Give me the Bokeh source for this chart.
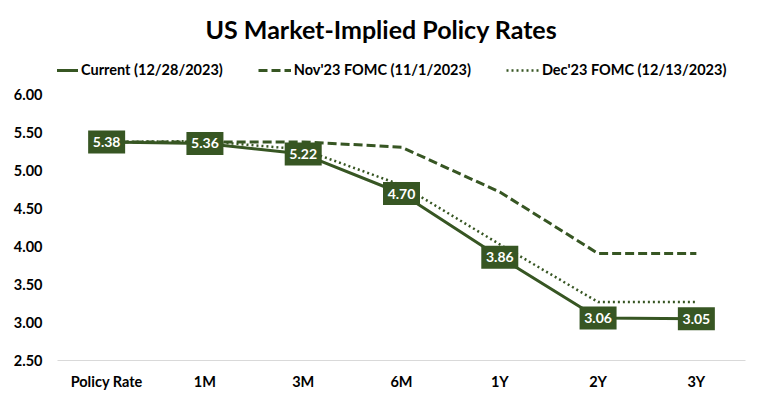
from bokeh.plotting import figure
from bokeh.models import ColumnDataSource, Legend, LegendItem, FactorRange, FixedTicker, CustomJSTickFormatter
from bokeh.core.properties import value
from bokeh.embed import file_html
from bokeh.resources import INLINE

categories = ["Policy Rate", "1M", "3M", "6M", "1Y", "2Y", "3Y"]
current = [5.38, 5.36, 5.22, 4.70, 3.86, 3.06, 3.05]
nov23 = [5.38, 5.38, 5.38, 5.31, 4.72, 3.91, 3.91]
dec23 = [5.38, 5.39, 5.28, 4.81, 4.03, 3.27, 3.27]
y_ticks = [2.5, 3.0, 3.5, 4.0, 4.5, 5.0, 5.5, 6.0]
series_names = ["Current (12/28/2023)", "Nov'23 FOMC (11/1/2023)", "Dec'23 FOMC (12/13/2023)"]

GREEN = "#375623"
FONT = "Lato"

p = figure(width=757, height=393, x_range=FactorRange(*categories, range_padding=0),
           y_range=(2.5, 6.584), output_backend="svg", toolbar_location=None,
           min_border_left=57, min_border_right=12, min_border_top=50, min_border_bottom=33,
           title="US Market-Implied Policy Rates")

p.title.align = "left"
p.title.offset = 148
p.title.standoff = 13
p.title.text_font = FONT
p.title.text_font_size = "25px"
p.title.text_font_style = "bold"
p.title.text_color = "#000000"

p.outline_line_color = None
p.xgrid.grid_line_color = None
p.ygrid.grid_line_color = None

p.yaxis.ticker = FixedTicker(ticks=y_ticks)
p.yaxis.formatter = CustomJSTickFormatter(code="return tick.toFixed(2);")
for ax in (p.xaxis, p.yaxis):
    ax.major_tick_line_color = None
    ax.minor_tick_line_color = None
    ax.major_label_text_font = FONT
    ax.major_label_text_font_size = "14.5px"
    ax.major_label_text_font_style = "bold"
    ax.major_label_text_color = "#000000"
p.yaxis.axis_line_color = None
p.yaxis.major_label_standoff = 9
p.xaxis.axis_line_color = "#D9D9D9"
p.xaxis.axis_line_width = 1
p.xaxis.major_label_standoff = 6

src = ColumnDataSource(dict(x=categories, cur=current, nov=nov23, dec=dec23,
                            lbl=["%.2f" % v for v in current]))

r_cur = p.line("x", "cur", source=src, line_color=GREEN, line_width=3)
r_nov = p.line("x", "nov", source=src, line_color=GREEN, line_width=3, line_dash="9 4")
r_dec = p.line("x", "dec", source=src, line_color=GREEN, line_width=2.5, line_dash="2 3")

p.rect("x", "cur", source=src, width=37, height=23, width_units="screen", height_units="screen",
       fill_color=GREEN, line_color=None)
p.text("x", "cur", text="lbl", source=src, text_align="center", text_baseline="middle",
       text_color="white", text_font=value(FONT), text_font_style="bold", text_font_size="14px")

legend = Legend(items=[LegendItem(label=series_names[0], renderers=[r_cur]),
                       LegendItem(label=series_names[1], renderers=[r_nov]),
                       LegendItem(label=series_names[2], renderers=[r_dec])],
                orientation="horizontal", location=(-12, 282),
                glyph_width=33, glyph_height=16, label_standoff=3, spacing=35,
                label_text_font=FONT, label_text_font_size="14.5px", label_text_font_style="bold",
                label_text_color="#000000", border_line_color=None, background_fill_alpha=0,
                padding=0, margin=0)
p.add_layout(legend, "center")

open("out.html", "w").write(file_html(p, INLINE))
